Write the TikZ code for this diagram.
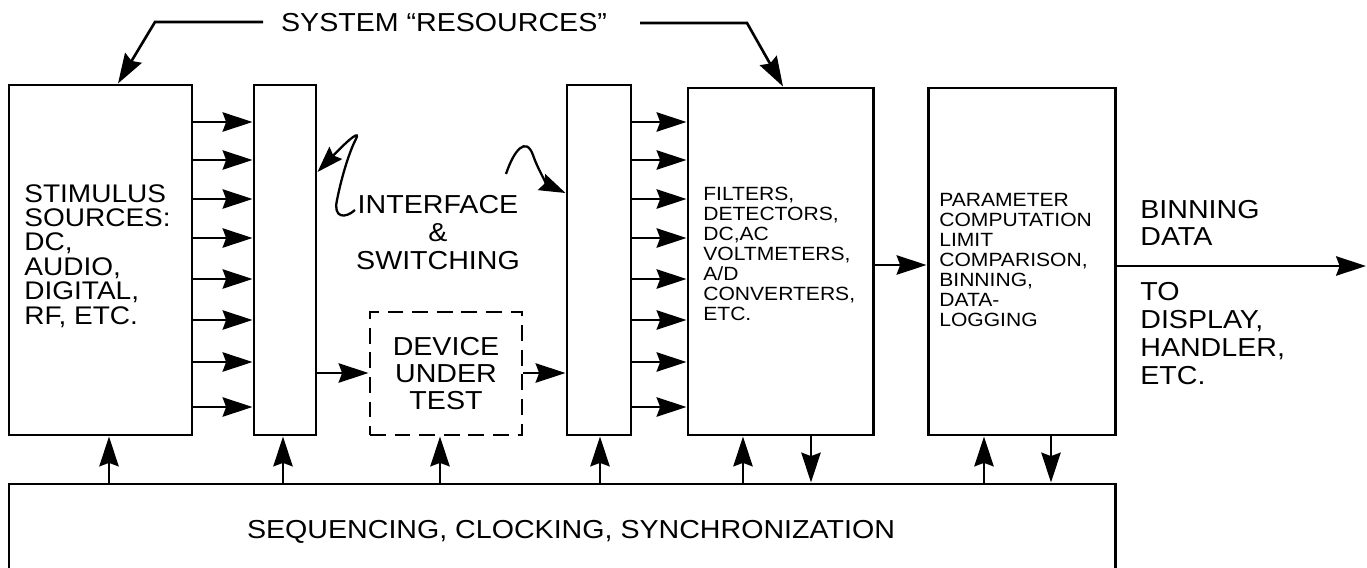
\documentclass[tikz,border=0pt]{standalone}
\usepackage{fontspec}
\setmainfont{Liberation Sans}[FakeStretch=1.1]
\usetikzlibrary{arrows.meta,fit}

\tikzset{
  box/.style={draw, line width=1.7pt, inner sep=0pt},
  dutbox/.style={box, dash pattern=on 9pt off 5pt},
  sig/.style={line width=1.5pt, -{Stealth[length=17pt,width=11pt,inset=2pt]}},
  wig/.style={line width=1.3pt, -{Stealth[length=15pt,width=10pt,inset=2pt]}},
  bigtxt/.style={font=\fontsize{14.8}{15.6}\selectfont, inner sep=0pt, align=left},
  smalltxt/.style={font=\fontsize{10.9}{11.4}\selectfont, inner sep=0pt, align=left},
}

\begin{document}
\begin{tikzpicture}[x=0.02cm, y=-0.02cm]
    \useasboundingbox (0,0) rectangle (1367,568);

    % boxes
    \node[box, fit={(9,85) (192,435)}] (stim) {};
    \node[box, fit={(254,85) (316,435)}] (if1) {};
    \node[dutbox, fit={(370,312) (522,435)}] (dut) {};
    \node[box, fit={(567,85) (631,435)}] (if2) {};
    \node[box, fit={(688,88) (873,435)}] (filt) {};
    \node[box, fit={(928,88) (1115,435)}] (par) {};
    \node[box, fit={(9,484) (1115,590)}] (seq) {};

    % texts
    \node[bigtxt, font=\fontsize{14.5}{13.9}\selectfont, anchor=north west] (stimtxt) at (24,184)
        {STIMULUS\\SOURCES:\\DC,\\AUDIO,\\DIGITAL,\\RF, ETC.};
    \node[bigtxt, font=\fontsize{14.8}{16}\selectfont, align=center, anchor=north] (iftxt) at (438,195)
        {INTERFACE\\\&\\SWITCHING};
    \node[bigtxt, font=\fontsize{14.8}{15.4}\selectfont, align=center] (duttxt) at (dut.center)
        {DEVICE\\UNDER\\TEST};
    \node[smalltxt, anchor=north west] (filttxt) at (703,187)
        {FILTERS,\\DETECTORS,\\DC,AC\\VOLTMETERS,\\A/D\\CONVERTERS,\\ETC.};
    \node[smalltxt, anchor=north west] (partxt) at (939,193)
        {PARAMETER\\COMPUTATION\\LIMIT\\COMPARISON,\\BINNING,\\DATA-\\LOGGING};
    \node[bigtxt, anchor=north west] (bintxt) at (1140,200) {BINNING\\DATA};
    \node[bigtxt, font=\fontsize{14.8}{15.9}\selectfont, anchor=north west] (totxt) at (1140,282)
        {TO\\DISPLAY,\\HANDLER,\\ETC.};
    \node[bigtxt] (seqtxt) at (571,532) {SEQUENCING, CLOCKING, SYNCHRONIZATION};
    \node[bigtxt] (restxt) at (444,23) {SYSTEM “RESOURCES”};

    % system resources pointers
    \coordinate (resL) at (263,22);
    \coordinate (resR) at (640,23);
    \draw[sig] (resL) -- (155,22) -- (stim.north -| 118,0);
    \draw[sig] (resR) -- (747,23) -- (filt.north -| 783,0);

    % signal paths
    \foreach \y in {122,160,199,238,279,320,362,407} {
        \draw[sig] (stim.east |- 0,\y) -- (if1.west |- 0,\y);
        \draw[sig] (if2.east |- 0,\y) -- (filt.west |- 0,\y);
    }
    \draw[sig] (if1.east |- 0,373) -- (dut.west |- 0,373);
    \draw[sig] (dut.east |- 0,373) -- (if2.west |- 0,373);
    \draw[sig] (filt.east |- 0,265) -- (par.west |- 0,265);
    \coordinate (out) at (1366,266);
    \draw[sig] (par.east |- out) -- (out);

    % control bus
    \draw[sig] (seq.north -| 109,0) -- (stim.south -| 109,0);
    \draw[sig] (seq.north -| 283,0) -- (if1.south -| 283,0);
    \draw[sig] (seq.north -| 440,0) -- (dut.south -| 440,0);
    \draw[sig] (seq.north -| 600,0) -- (if2.south -| 600,0);
    \draw[sig] (seq.north -| 743,0) -- (filt.south -| 743,0);
    \draw[sig] (filt.south -| 811,0) -- (seq.north -| 811,0);
    \draw[sig] (seq.north -| 984,0) -- (par.south -| 984,0);
    \draw[sig] (par.south -| 1051,0) -- (seq.north -| 1051,0);

    % interface pointers
    \draw[wig] (355,210) .. controls (345,219) and (333,218) .. (337,200)
        .. controls (342,175) and (350,150) .. (356,139)
        .. controls (360,131) and (352,136) .. (if1.east |- 0,172);
    \draw[wig] (506,174) .. controls (514,150) and (526,136) .. (533,155)
        .. controls (538,170) and (548,185) .. (if2.west |- 0,193);
\end{tikzpicture}
\end{document}
